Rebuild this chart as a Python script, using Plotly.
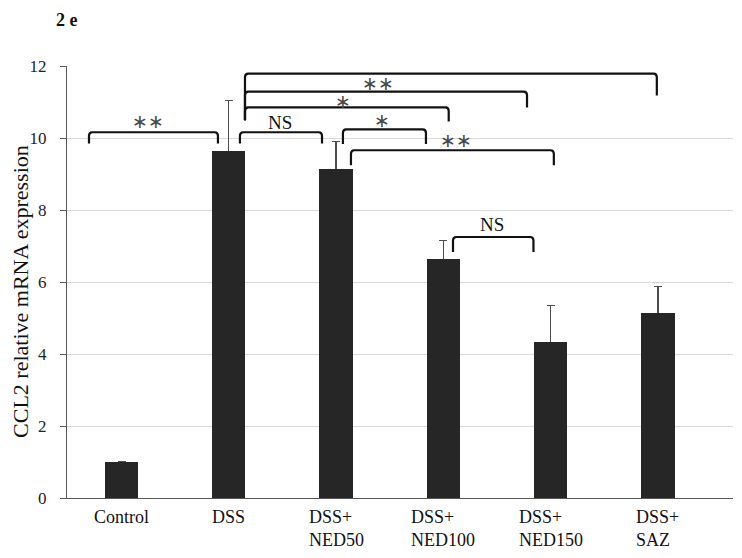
import plotly.graph_objects as go

# ---- data ----
categories = ["Control", "DSS", "DSS+<br>NED50", "DSS+<br>NED100", "DSS+<br>NED150", "DSS+<br>SAZ"]
means = [1.0, 9.65, 9.15, 6.65, 4.32, 5.15]
err_up = [None, 1.39, 0.76, 0.50, 1.03, 0.72]
y_ticks = [0, 2, 4, 6, 8, 10, 12]

# significance brackets: x1, x2, top y, left-leg end, right-leg end
br_x1 = [-0.303, 1.104, 1.151, 1.151, 1.151, 2.064, 2.139, 3.09]
br_x2 = [0.899, 1.869, 4.99, 3.78, 3.05, 2.838, 4.03, 3.84]
br_top = [10.16, 10.16, 11.79, 11.29, 10.85, 10.24, 9.66, 7.25]
br_left = [9.85, 9.85, 10.49, 10.49, 10.49, 9.83, 9.24, 6.83]
br_right = [9.85, 9.85, 11.18, 10.85, 10.46, 9.83, 9.24, 6.83]
# bracket labels
lab_text = ["**", "NS", "**", "**", "*", "*", "**", "NS"]
lab_x = [0.25, 1.48, 3.16, 2.39, 2.06, 2.43, 3.12, 3.45]
lab_y = [10.46, 10.43, 12.04, 11.52, 11.02, 10.49, 9.94, 7.61]

xs = list(range(len(categories)))
SERIF = "Liberation Serif, Times New Roman, serif"

fig = go.Figure()
# bars with symmetric error bars (lower half hidden by the overlay bars below)
fig.add_trace(go.Bar(
    x=xs, y=means, width=0.31,
    marker=dict(color="#262626", line=dict(width=0)),
    error_y=dict(type="data", array=err_up, color="#4d4d4d",
                 thickness=1.2, width=4),
    showlegend=False, hoverinfo="skip",
))
fig.add_trace(go.Bar(
    x=xs, y=means, width=0.31,
    marker=dict(color="#262626", line=dict(width=0)),
    showlegend=False,
))

shapes = []
rx, ry = 0.03, 0.1
for x1, x2, yt, yl, yr in zip(br_x1, br_x2, br_top, br_left, br_right):
    path = (f"M {x1},{yl} L {x1},{yt - ry} Q {x1},{yt} {x1 + rx},{yt} "
            f"L {x2 - rx},{yt} Q {x2},{yt} {x2},{yt - ry} L {x2},{yr}")
    shapes.append(dict(type="path", path=path, xref="x", yref="y",
                       line=dict(color="#111111", width=2.2)))

annotations = []
for t, x, y in zip(lab_text, lab_x, lab_y):
    if t.startswith("*"):
        annotations.append(dict(x=x, y=y, xref="x", yref="y",
                                text="\u2217" * len(t), showarrow=False,
                                font=dict(family="DejaVu Sans", size=19, color="#4a4a4a"),
                                xanchor="center", yanchor="middle"))
    else:
        annotations.append(dict(x=x, y=y, xref="x", yref="y", text=t,
                                showarrow=False,
                                font=dict(family=SERIF, size=19, color="#111111"),
                                xanchor="center", yanchor="middle"))

# category labels (left-aligned lines, centered block)
for x, c in zip(xs, categories):
    annotations.append(dict(x=x, y=0, xref="x", yref="y", text=c,
                            showarrow=False, align="left",
                            font=dict(family=SERIF, size=18, color="#111111"),
                            xanchor="center", yanchor="top", yshift=-7))

# y-axis title
annotations.append(dict(x=0, y=0.477, xref="paper", yref="paper",
                        text="CCL2 relative mRNA expression", textangle=-90,
                        showarrow=False, xanchor="center", yanchor="middle",
                        xshift=-46, borderpad=0,
                        font=dict(family=SERIF, size=22, color="#111111")))
# panel label
annotations.append(dict(x=0, y=1, xref="paper", yref="paper", text="<b>2 e</b>",
                        showarrow=False, xanchor="left", yanchor="top",
                        xshift=-12, yshift=57, borderpad=0,
                        font=dict(family=SERIF, size=18, color="#111111")))

# page body has an 8px margin, so the figure is sized/offset to compensate
fig.update_layout(
    width=734, height=550,
    margin=dict(l=59, r=9, t=57.5, b=59.5),
    paper_bgcolor="white", plot_bgcolor="white",
    shapes=shapes, annotations=annotations,
    barmode="overlay",
    xaxis=dict(range=[-0.508, 5.70], showticklabels=False, showgrid=False,
               zeroline=False, showline=True, linecolor="#595959", linewidth=1,
               ticks=""),
    yaxis=dict(range=[0, 12], tickvals=y_ticks, showgrid=True,
               gridcolor="#d9d9d9", gridwidth=1, zeroline=False,
               showline=True, linecolor="#595959", linewidth=1,
               ticks="outside", ticklen=6, tickcolor="#595959",
               ticklabelstandoff=10,
               tickfont=dict(family=SERIF, size=17, color="#222222")),
    bargap=0,
)

fig.write_html("out.html")
